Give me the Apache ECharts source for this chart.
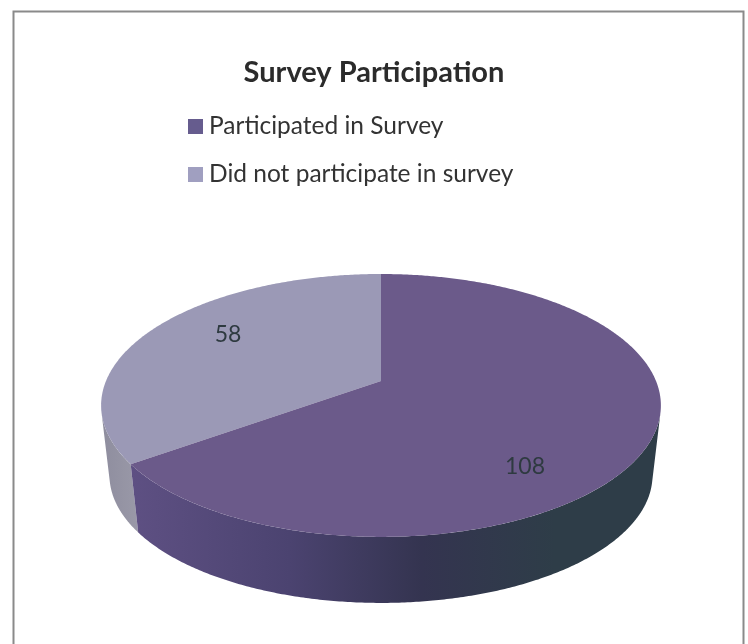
<!DOCTYPE html>
<html><head><meta charset="utf-8">
<style>html,body{margin:0;padding:0;background:#fff}#c{width:748px;height:644px}</style>
<script src="https://cdn.jsdelivr.net/npm/echarts@6/dist/echarts.min.js"></script>
</head><body><div id="c"></div>
<script>
const categories = ['Participated in Survey', 'Did not participate in survey'];
const values = [108, 58];
const chartTitle = 'Survey Participation';

const faceColors = ['#6b5a8a', '#9b99b6'];
const legendColors = ['#665c8e', '#a09fc0'];
const sideStops = [
  [[0, '#5e5083'], [0.3, '#4b4370'], [0.55, '#343450'], [0.8, '#2e3d48'], [1, '#2e3d48']],
  [[0, '#8e8d9e'], [1, '#9a99a8']]
];
const labelAnchors = [[525, 467], [228, 335]];
const apex = [381, 381], K = 0.186, A = 126.9, C = 275;
const bottomScaleX = 0.97, bottomScaleY = 0.97, bottomShift = 70.7;
const frontRange = [104, 256];

function project(deg, bottom) {
  const t = deg * Math.PI / 180, X = Math.sin(t), Y = Math.cos(t), w = 1 + K * Y;
  const x = C * X / w, v = A * Y / w;
  return bottom ? [apex[0] + x * bottomScaleX, apex[1] - v * bottomScaleY + bottomShift]
                : [apex[0] + x, apex[1] - v];
}
function arc(a0, a1, bottom) {
  const pts = [], n = Math.max(2, Math.ceil((a1 - a0) * 2));
  for (let i = 0; i <= n; i++) pts.push(project(a0 + (a1 - a0) * i / n, bottom));
  return pts;
}
const total = values.reduce((s, v) => s + v, 0);
function renderSlice(index) {
  return function (params, api) {
    let start = 0;
    for (let i = 0; i < index; i++) start += values[i];
    const a0 = start / total * 360, a1 = a0 + api.value(0) / total * 360;
    const f0 = Math.max(a0, frontRange[0]), f1 = Math.min(a1, frontRange[1]);
    const sidePts = arc(f0, f1, false).concat(arc(f0, f1, true).reverse());
    const colorStops = sideStops[index].map(s => ({ offset: s[0], color: s[1] }));
    return { type: 'group', children: [
      { type: 'polygon', shape: { points: sidePts },
        style: { fill: new echarts.graphic.LinearGradient(0, 0, 1, 0, colorStops) } },
      { type: 'polygon', shape: { points: [apex].concat(arc(a0, a1, false)) }, style: { fill: faceColors[index] } },
      { type: 'text', x: labelAnchors[index][0], y: labelAnchors[index][1],
        style: { text: String(api.value(0)), fill: '#2e3a40', fontFamily: 'Lato', fontSize: 23,
                 align: 'center', verticalAlign: 'middle' } }
    ] };
  };
}
const chart = echarts.init(document.getElementById('c'), null, { renderer: 'canvas' });
chart.setOption({
  animation: false,
  backgroundColor: '#ffffff',
  color: legendColors,
  title: { text: chartTitle, left: 'center', top: 53,
    textStyle: { fontFamily: 'Lato', fontSize: 29, fontWeight: 'bold', color: '#2b2b2b' } },
  legend: { data: categories, orient: 'vertical', left: 183, top: 109, itemWidth: 15, itemHeight: 15, itemGap: 23,
    icon: 'rect', textStyle: { fontFamily: 'Lato', fontSize: 24.5, color: '#333333', padding: [0, 0, 0, 1] } },
  graphic: [{ type: 'polyline', shape: { points: [[13.5, 644], [13.5, 11.5], [743.5, 11.5], [743.5, 644]] }, z: 0,
    style: { fill: 'none', stroke: '#8a8a8a', lineWidth: 2 } }],
  series: categories.map((name, i) => ({
    type: 'custom', name, coordinateSystem: 'none', z: i === 0 ? 3 : 2,
    itemStyle: { color: legendColors[i] },
    renderItem: renderSlice(i), data: [[values[i]]], silent: true
  }))
});
</script></body></html>
